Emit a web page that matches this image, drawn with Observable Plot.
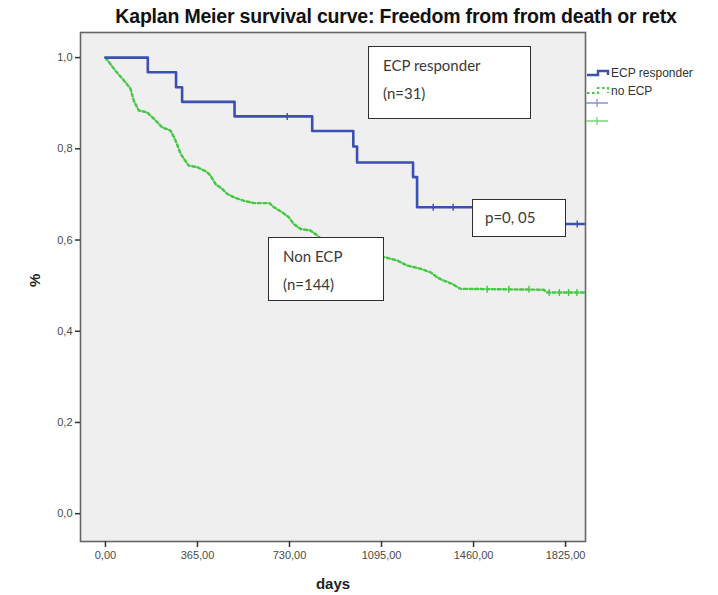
<!DOCTYPE html>
<html><head><meta charset="utf-8">
<script src="https://cdn.jsdelivr.net/npm/d3@7"></script>
<script src="https://cdn.jsdelivr.net/npm/@observablehq/plot@0.6"></script>
<style>
body{margin:0;background:#fff;}
#wrap{position:relative;width:718px;height:595px;overflow:hidden;}
.note{position:absolute;background:#fff;border:1.6px solid #2e2e2e;font-family:Lato,"Open Sans",sans-serif;font-size:15px;color:#3a3a3a;box-sizing:border-box;line-height:28px;white-space:nowrap;}
#title{position:absolute;left:396px;top:5px;transform:translateX(-50%);font-family:"Liberation Sans",Arial,sans-serif;font-weight:bold;font-size:19.5px;color:#111;white-space:nowrap;letter-spacing:-0.2px;}
#legend{position:absolute;left:584px;top:62px;}
</style></head><body>
<div id="wrap">
  <div id="title">Kaplan Meier survival curve: Freedom from from death or retx</div>
</div>
<script>
// ---- data ----
const ecpDays = [0,168,280,304,512,820,983,998,1220,1236,1600,1900];
const ecpSurv = [1,0.968,0.935,0.903,0.871,0.839,0.805,0.770,0.738,0.672,0.635,0.635];
const ecpCensorDays = [721,1300,1379,1871];
const ecpCensorSurv = [0.871,0.672,0.672,0.635];

const nonDays = [0,40,73,99,112,132,165,192,225,258,278,298,330,364,403,417,436,463,483,509,549,588,650,668,701,727,747,774,813,840,880,1104,1157,1197,1250,1290,1316,1342,1375,1408,1738,1752,1900];
const nonSurv = [1,0.971,0.950,0.932,0.906,0.884,0.880,0.866,0.847,0.840,0.818,0.789,0.763,0.760,0.749,0.741,0.723,0.712,0.701,0.694,0.686,0.681,0.681,0.672,0.661,0.650,0.635,0.624,0.621,0.610,0.590,0.563,0.555,0.544,0.537,0.529,0.518,0.511,0.504,0.493,0.491,0.485,0.485];
const nonCensorDays = [1514,1600,1680,1760,1800,1837,1870];
const nonCensorSurv = [0.492,0.492,0.492,0.485,0.485,0.485,0.485];

const xTicks = [0,365,730,1095,1460,1825];
const yTicks = [0,0.2,0.4,0.6,0.8,1.0];

const groups = ["ECP responder","no ECP"];
const notes = {ecp:["ECP responder","(n=31)"], p:["p=0, 05"], non:["Non ECP","(n=144)"]};

// ---- tables ----
const ecp = ecpDays.map((d,i)=>({day:d, surv:ecpSurv[i]}));
const non = nonDays.map((d,i)=>({day:d, surv:nonSurv[i]}));
const ecpC = ecpCensorDays.map((d,i)=>({day:d, surv:ecpCensorSurv[i]}));
const nonC = nonCensorDays.map((d,i)=>({day:d, surv:nonCensorSurv[i]}));

const BLUE = "#3c4fb2", GREEN = "#45c845";
const vtick = {draw(ctx, size){ const r = 3.5; ctx.moveTo(0,-r); ctx.lineTo(0,r); }};
const comma = (d,n)=>d.toFixed(n).replace(".",",");
const narrow = "'Liberation Sans Narrow','Arial Narrow','Liberation Sans',sans-serif";

const chart = Plot.plot({
  width:718, height:595,
  marginTop:32, marginLeft:80, marginRight:133, marginBottom:54,
  x:{domain:[-99,1904]},
  y:{domain:[-0.061,1.055]},
  style:{fontFamily:narrow, fontSize:"11px", color:"#4a4a4a", background:"#fff", overflow:"visible"},
  marks:[
    Plot.frame({fill:"#efefef", stroke:"none"}),
    Plot.line(non, {x:"day", y:"surv", curve:"linear", stroke:GREEN, strokeWidth:2.4, strokeDasharray:"3,2.6"}),
    Plot.dot(nonC, {x:"day", y:"surv", symbol:vtick, stroke:GREEN, strokeWidth:1.4}),
    Plot.line(ecp, {x:"day", y:"surv", curve:"step-after", stroke:BLUE, strokeWidth:2.6}),
    Plot.dot(ecpC, {x:"day", y:"surv", symbol:vtick, stroke:BLUE, strokeWidth:1.4}),
    Plot.frame({stroke:"#666", strokeWidth:1.6}),
    Plot.axisX({ticks:xTicks, tickFormat:d=>comma(d,2), tickSize:6, tickPadding:4, stroke:"#333", strokeWidth:1.5, label:null}),
    Plot.axisY({ticks:yTicks, tickFormat:d=>comma(d,1), tickSize:5, tickPadding:3, stroke:"#333", strokeWidth:1.5, label:null}),
    Plot.text(["days"], {frameAnchor:"bottom", dy:47, text:d=>d, fontWeight:"bold", fontSize:15, fill:"#222", fontFamily:"'Liberation Sans',Arial,sans-serif"}),
    Plot.text(["%"], {frameAnchor:"left", dx:-45, text:d=>d, rotate:-90, fontWeight:"bold", fontSize:15, fill:"#222", fontFamily:"'Liberation Sans',Arial,sans-serif"})
  ]
});
const wrap = document.getElementById("wrap");
chart.style.position="absolute"; chart.style.left="0"; chart.style.top="0";
wrap.insertBefore(chart, wrap.firstChild);

// annotation boxes
function note(lines, left, top, w, h, padL, padT){
  const d = document.createElement("div");
  d.className="note";
  Object.assign(d.style,{left:left+"px",top:top+"px",width:w+"px",height:h+"px",paddingLeft:padL+"px",paddingTop:padT+"px"});
  d.innerHTML = lines.join("<br>");
  wrap.appendChild(d);
}
note(notes.ecp, 368, 46, 163, 73, 14, 4);
note(notes.p, 472, 199, 94, 38, 12, 3);
note(notes.non, 268, 237, 116, 64, 14, 4);

// legend
const ns="http://www.w3.org/2000/svg";
const lg = document.createElementNS(ns,"svg");
lg.setAttribute("id","legend"); lg.setAttribute("width","134"); lg.setAttribute("height","70");
const ff = narrow.replace(/'/g,'&quot;');
lg.innerHTML = `
 <path d="M3 13 H14 V9 H24 V13" fill="none" stroke="${BLUE}" stroke-width="2.4"/>
 <text x="27" y="15" font-family="${ff}" font-size="12" fill="#333">${groups[0]}</text>
 <path d="M3 31 H14 V26 H24 V31" fill="none" stroke="${GREEN}" stroke-width="2.2" stroke-dasharray="2.5,2.5"/>
 <text x="27" y="33" font-family="${ff}" font-size="12" fill="#333">${groups[1]}</text>
 <path d="M2 41 H24 M13 37 V45" stroke="#8493d6" stroke-width="1.3"/>
 <path d="M2 59 H24 M13 55 V63" stroke="#78d478" stroke-width="1.3"/>
`;
wrap.appendChild(lg);
</script>
</body></html>
